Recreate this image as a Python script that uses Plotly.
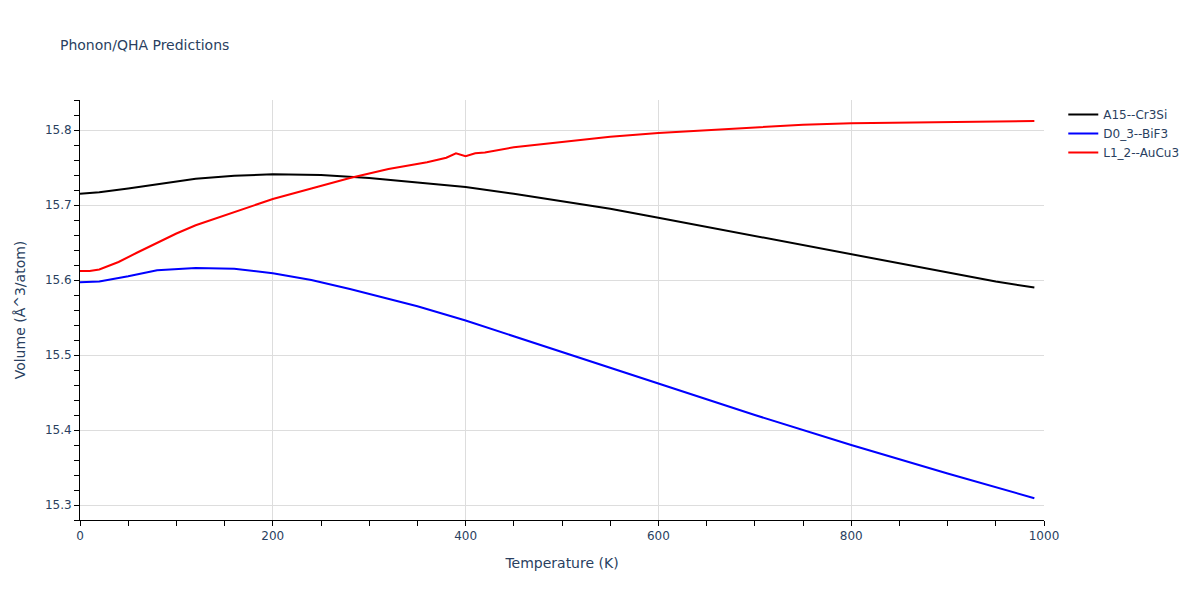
import plotly.graph_objects as go

temp_a15 = [0, 20, 50, 80, 120, 160, 200, 250, 300, 350, 400, 450, 500, 550, 600, 650, 700, 750, 800, 850, 900, 950, 990]
vol_a15 = [15.715, 15.717, 15.722, 15.728, 15.735, 15.739, 15.741, 15.740, 15.736, 15.730, 15.724, 15.715, 15.705, 15.695, 15.683, 15.671, 15.659, 15.647, 15.635, 15.622, 15.610, 15.598, 15.590]

temp_d03 = [0, 10, 20, 50, 80, 120, 160, 200, 240, 280, 350, 400, 450, 500, 600, 700, 800, 900, 990]
vol_d03 = [15.597, 15.597, 15.598, 15.605, 15.613, 15.616, 15.615, 15.609, 15.600, 15.588, 15.565, 15.546, 15.525, 15.505, 15.462, 15.420, 15.380, 15.342, 15.309]

temp_l12 = [0, 10, 20, 40, 60, 80, 100, 120, 160, 200, 240, 280, 320, 360, 380, 390, 400, 410, 420, 450, 500, 550, 600, 650, 700, 750, 800, 900, 990]
vol_l12 = [15.612, 15.612, 15.614, 15.624, 15.637, 15.650, 15.662, 15.673, 15.691, 15.708, 15.722, 15.736, 15.748, 15.757, 15.763, 15.769, 15.765, 15.769, 15.770, 15.777, 15.784, 15.791, 15.796, 15.800, 15.804, 15.807, 15.809, 15.811, 15.812]

fig = go.Figure()
fig.add_trace(go.Scatter(x=temp_a15, y=vol_a15, mode="lines", name="A15--Cr3Si", line=dict(color="black", width=2)))
fig.add_trace(go.Scatter(x=temp_d03, y=vol_d03, mode="lines", name="D0_3--BiF3", line=dict(color="blue", width=2)))
fig.add_trace(go.Scatter(x=temp_l12, y=vol_l12, mode="lines", name="L1_2--AuCu3", line=dict(color="red", width=2)))

axis_common = dict(
    showline=True, linecolor="black", linewidth=1,
    ticks="outside", tickcolor="black", ticklen=5,
    showgrid=True, gridcolor="#dddddd", zeroline=False,
    tickfont=dict(size=12), automargin=False,
)
fig.update_layout(
    template="plotly_white",
    width=1192, height=592,
    font=dict(family="DejaVu Sans", color="#2a3f5f", size=12),
    title=dict(text="Phonon/QHA Predictions", font=dict(size=14), x=0.0436, y=0.946),
    margin=dict(l=72, r=156, t=92, b=80),
    legend=dict(font=dict(size=12)),
    xaxis=dict(title=dict(text="Temperature (K)", font=dict(size=14)), range=[0, 1000], dtick=200,
               minor=dict(dtick=50, ticks="outside", ticklen=5, tickcolor="black", showgrid=False),
               **axis_common),
    yaxis=dict(title=dict(text="Volume (Å^3/atom)", font=dict(size=14)), range=[15.28, 15.84], dtick=0.1,
               minor=dict(dtick=0.02, ticks="outside", ticklen=5, tickcolor="black", showgrid=False),
               **axis_common),
    plot_bgcolor="white",
)
fig.write_html("out.html")
